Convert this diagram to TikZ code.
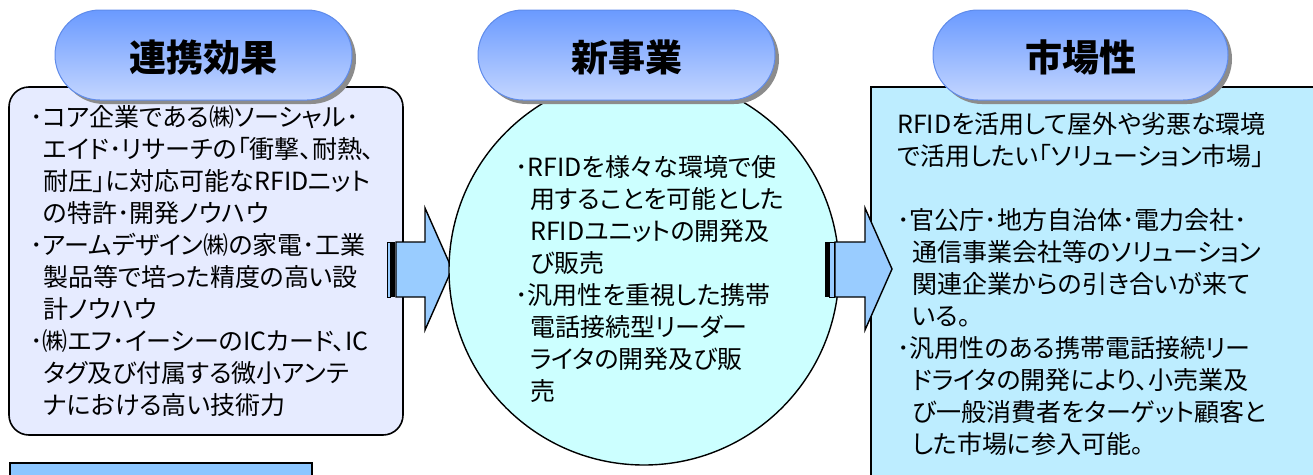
\documentclass[tikz,border=0pt]{standalone}
\usepackage{fontspec}
\setmainfont{Noto Sans CJK JP}[RawFeature=+palt]
\newcommand{\myind}[1]{\hspace*{#1pt}}
\definecolor{boxA}{HTML}{E6EBFF}
\definecolor{boxC}{HTML}{BDEDFF}
\definecolor{circ}{HTML}{CCFFFF}
\definecolor{arrowc}{HTML}{99CCFF}
\definecolor{blbox}{HTML}{8CC6FF}
\definecolor{pilltop}{HTML}{6A9AFF}
\definecolor{pillbot}{HTML}{C4D6FF}
\definecolor{pillline}{HTML}{5F8BEA}
\definecolor{shadowc}{HTML}{8C8C8C}
\tikzset{
  bodytext/.style={anchor=north west,inner sep=0pt,align=left,font=\fontsize{25}{32}\selectfont},
  titletext/.style={inner sep=0pt,font=\fontsize{37}{40}\selectfont\bfseries},
  pillshape/.style={rounded corners=45pt,top color=pilltop,bottom color=pillbot,draw=pillline,line width=1pt},
  pillshadow/.style={rounded corners=45pt,fill=shadowc},
  blockarrow/.style={fill=arrowc,draw=black,line width=1.4pt,line join=miter},
}
\begin{document}
\begin{tikzpicture}[x=1pt,y=-1pt]
\useasboundingbox (0,0) rectangle (1313,474);
% box 1
\draw[fill=boxA,line width=1.6pt,rounded corners=20pt] (9,87) rectangle (403,435);
% box 3
\draw[fill=boxC,line width=1.6pt] (871,87) rectangle (1320,490);
% bottom-left box
\draw[fill=blbox,line width=1.6pt] (10,463) rectangle (312,490);
% arrow 1
\draw[blockarrow] (396,242) -- (425,242) -- (425,208) -- (452,269) -- (425,330) -- (425,297) -- (396,297) -- cycle;
\draw[fill=arrowc,draw=black,line width=0.8pt] (387,242) rectangle (390.5,297);
\fill[black] (391,242) rectangle (395,297);
% circle
\draw[fill=circ,line width=1.4pt] (644,270) circle (195pt);
% arrow 2
\draw[blockarrow] (835,242) -- (865,242) -- (865,208) -- (892,269) -- (865,330) -- (865,297) -- (835,297) -- cycle;
\fill[black] (825,242) rectangle (828.5,297);
\draw[fill=arrowc,draw=black,line width=0.8pt] (829.5,242) rectangle (834,297);
% pills
\fill[pillshadow] (59,14) rectangle (356,104);
\path[pillshape] (55,10) rectangle (352,100);
\fill[pillshadow] (482,14) rectangle (779,104);
\path[pillshape] (478,10) rectangle (775,100);
\fill[pillshadow] (937,14) rectangle (1232,104);
\path[pillshape] (933,10) rectangle (1228,100);
\node[titletext] (t1) at (203.5,57) {連携効果};
\node[titletext] (t2) at (626.5,57) {新事業};
\node[titletext] (t3) at (1080.5,57) {市場性};
% texts
\node[bodytext] (b1) at (30,105) {･コア企業である㈱ソーシャル･\\
\myind{13}エイド･リサーチの「衝撃、耐熱、\\
\myind{13}耐圧」に対応可能なRFIDニット\\
\myind{13}の特許･開発ノウハウ\\
･アームデザイン㈱の家電･工業\\
\myind{13}製品等で培った精度の高い設\\
\myind{13}計ノウハウ\\
･㈱エフ･イーシーのICカード、IC\\
\myind{13}タグ及び付属する微小アンテ\\
\myind{13}ナにおける高い技術力};
\node[bodytext] (b2) at (515,155) {･RFIDを様々な環境で使\\
\myind{15}用することを可能とした\\
\myind{15}RFIDユニットの開発及\\
\myind{15}び販売\\
･汎用性を重視した携帯\\
\myind{15}電話接続型リーダー\\
\myind{15}ライタの開発及び販\\
\myind{15}売};
\node[bodytext] (b3) at (897,112) {RFIDを活用して屋外や劣悪な環境\\
で活用したい「ソリューション市場」\\
\mbox{}\\
･官公庁･地方自治体･電力会社･\\
\myind{15}通信事業会社等のソリューション\\
\myind{15}関連企業からの引き合いが来て\\
\myind{15}いる。\\
･汎用性のある携帯電話接続リー\\
\myind{15}ドライタの開発により、小売業及\\
\myind{15}び一般消費者をターゲット顧客と\\
\myind{15}した市場に参入可能。};
\end{tikzpicture}
\end{document}
